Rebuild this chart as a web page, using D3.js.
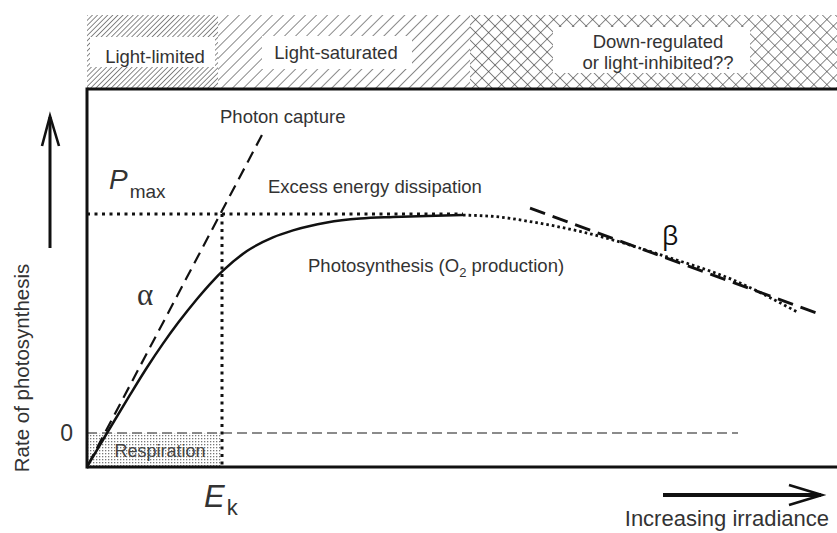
<!DOCTYPE html>
<html><head><meta charset="utf-8">
<script src="https://cdn.jsdelivr.net/npm/d3@7"></script>
<style>body{margin:0;background:#fff}svg{display:block}</style>
</head><body><svg id="c" width="837" height="533"></svg>
<script>
// ---- data (irradiance I in arbitrary units, rate P relative to Pmax) ----
const curveI = [0, 2.67, 5.73, 8.0, 10.13, 12.17, 14.67, 16.8, 18.13, 21.33, 24.8, 27.47, 32, 36.4, 40.8, 45.33, 50.13];
const curveP = [-0.155, 0, 0.174, 0.299, 0.408, 0.504, 0.612, 0.695, 0.741, 0.831, 0.893, 0.925, 0.961, 0.979, 0.986, 0.991, 0.995];
const inhibI = [50.13, 55.07, 59.47, 66.67, 77.33, 86.13, 94.67];
const inhibP = [0.995, 0.986, 0.963, 0.913, 0.804, 0.699, 0.553];
const alphaI = [0.13, 23.33];
const alphaP = [-0.146, 1.361];
const betaI = [59.07, 98];
const betaP = [1.027, 0.539];
const Pmax = 1, Ek = 18, zeroP = 0, respP = -0.155;
const zeroLineEnd = 86.8;
const regionBounds = [0, 17.47, 51.07, 100];
const regionLabels = [["Light-limited"], ["Light-saturated"], ["Down-regulated", "or light-inhibited??"]];
const yTickValues = [0];
const yTickLabels = ["0"];

// ---- layout ----
const L = 87, R = 837, T = 89, B = 467;
const x = d3.scaleLinear().domain([0, 100]).range([L, R]);
const y = d3.scaleLinear().domain([-0.1553, 1.5708]).range([B, T]);
const svg = d3.select("#c");
const txt = "#333";
const font = "'Liberation Sans', Arial, Helvetica, sans-serif";

// ---- patterns ----
const defs = svg.append("defs");
function hatch(id, spacing, angle, w) {
  const p = defs.append("pattern").attr("id", id).attr("patternUnits", "userSpaceOnUse")
    .attr("width", spacing).attr("height", spacing).attr("patternTransform", `rotate(${angle})`);
  p.append("line").attr("x1", 0).attr("y1", -1).attr("x2", 0).attr("y2", spacing + 1)
    .attr("stroke", "#3a3a3a").attr("stroke-width", w);
}
hatch("dense", 3.6, 45, 1.2);
hatch("sparse", 7.8, 45, 1.2);
hatch("crossA", 9.2, 45, 1.2);
hatch("crossB", 9.2, -45, 1.2);
const st = defs.append("pattern").attr("id", "stip").attr("patternUnits", "userSpaceOnUse").attr("width", 3).attr("height", 3);
st.append("rect").attr("width", 1.3).attr("height", 1.3).attr("fill", "#777");

// ---- top band ----
const bandTop = 15, bandBot = 88;
const band = svg.append("g");
const fills = [["url(#dense)"], ["url(#sparse)"], ["url(#crossA)", "url(#crossB)"]];
regionBounds.slice(0, 3).forEach((b, i) => {
  fills[i].forEach(f => band.append("rect").attr("x", x(b)).attr("y", bandTop)
    .attr("width", x(regionBounds[i + 1]) - x(b)).attr("height", bandBot - bandTop).attr("fill", f));
});
const boxes = [[90, 37, 125, 30], [262, 36, 150, 33], [553, 27, 197, 46]];
boxes.forEach(b => band.append("rect").attr("x", b[0]).attr("y", b[1]).attr("width", b[2]).attr("height", b[3]).attr("fill", "#fff"));
const labelPos = [[155, [63]], [336, [59]], [658, [48, 69]]];
regionLabels.forEach((lines, i) => {
  lines.forEach((t, j) => band.append("text").attr("x", labelPos[i][0]).attr("y", labelPos[i][1][j])
    .attr("text-anchor", "middle").attr("font-family", font).attr("font-size", 18.5).attr("fill", txt).text(t));
});

// ---- respiration area ----
svg.append("rect").attr("x", x(0)).attr("y", y(zeroP)).attr("width", x(Ek) - x(0))
  .attr("height", y(respP) - y(zeroP)).attr("fill", "url(#stip)");
svg.append("text").attr("x", 160).attr("y", 457).attr("text-anchor", "middle")
  .attr("font-family", font).attr("font-size", 18).attr("fill", "#444").text("Respiration");

// ---- reference lines ----
svg.append("line").attr("x1", x(0)).attr("x2", x(zeroLineEnd)).attr("y1", y(zeroP)).attr("y2", y(zeroP))
  .attr("stroke", "#666").attr("stroke-width", 1.5).attr("stroke-dasharray", "10,5");
svg.append("line").attr("x1", x(0)).attr("x2", x(curveI[curveI.length - 1])).attr("y1", y(Pmax)).attr("y2", y(Pmax))
  .attr("stroke", "#111").attr("stroke-width", 3).attr("stroke-dasharray", "3,4.5");
svg.append("line").attr("x1", x(Ek)).attr("x2", x(Ek)).attr("y1", y(Pmax)).attr("y2", y(respP))
  .attr("stroke", "#111").attr("stroke-width", 3).attr("stroke-dasharray", "3,4.5");

// ---- curves ----
const smooth = d3.line().x(d => x(d[0])).y(d => y(d[1])).curve(d3.curveMonotoneX);
const straight = d3.line().x(d => x(d[0])).y(d => y(d[1]));
svg.append("path").datum(alphaI.map((v, i) => [v, alphaP[i]])).attr("d", straight)
  .attr("fill", "none").attr("stroke", "#111").attr("stroke-width", 2.2).attr("stroke-dasharray", "12,7");
svg.append("path").datum(curveI.map((v, i) => [v, curveP[i]])).attr("d", smooth)
  .attr("fill", "none").attr("stroke", "#111").attr("stroke-width", 2.5);
svg.append("path").datum(inhibI.map((v, i) => [v, inhibP[i]])).attr("d", smooth)
  .attr("fill", "none").attr("stroke", "#111").attr("stroke-width", 2.8).attr("stroke-dasharray", "2.6,3");
svg.append("path").datum(betaI.map((v, i) => [v, betaP[i]])).attr("d", straight)
  .attr("fill", "none").attr("stroke", "#111").attr("stroke-width", 2.8).attr("stroke-dasharray", "16,8");

// ---- axes frame ----
const ax = svg.append("g");
ax.append("line").attr("x1", L).attr("x2", R).attr("y1", T).attr("y2", T).attr("stroke", "#111").attr("stroke-width", 3);
ax.append("line").attr("x1", L).attr("x2", R).attr("y1", B).attr("y2", B).attr("stroke", "#111").attr("stroke-width", 3);
ax.append("line").attr("x1", L).attr("x2", L).attr("y1", T - 1.5).attr("y2", B + 1.5).attr("stroke", "#111").attr("stroke-width", 3);

const yAxis = d3.axisLeft(y).tickValues(yTickValues).tickFormat((d, i) => yTickLabels[i]).tickSize(0).tickPadding(14);
const ya = svg.append("g").attr("transform", `translate(${L},0)`).call(yAxis);
ya.select(".domain").remove();
ya.selectAll("text").attr("font-family", font).attr("font-size", 23).attr("fill", txt).attr("dy", "0.32em");

// ---- labels ----
function t(xp, yp, s, size, extra) {
  const e = svg.append("text").attr("x", xp).attr("y", yp).attr("font-family", font).attr("font-size", size).attr("fill", txt).text(s);
  if (extra) extra(e);
  return e;
}
t(220, 123, "Photon capture", 18.5);
t(268, 193, "Excess energy dissipation", 18.5);
const ps = svg.append("text").attr("x", 308).attr("y", 272).attr("font-family", font).attr("font-size", 18.5).attr("fill", txt);
ps.append("tspan").text("Photosynthesis (O");
ps.append("tspan").attr("font-size", 13).attr("dy", 5).text("2");
ps.append("tspan").attr("dy", -5).text(" production)");

const pm = svg.append("text").attr("x", 109).attr("y", 189).attr("font-family", font).attr("fill", txt);
pm.append("tspan").attr("font-size", 28).attr("font-style", "italic").text("P");
pm.append("tspan").attr("font-size", 19).attr("dx", 2).attr("dy", 9).text("max");
const ek = svg.append("text").attr("x", 204).attr("y", 507).attr("font-family", font).attr("fill", txt);
ek.append("tspan").attr("font-size", 31).attr("font-style", "italic").text("E");
ek.append("tspan").attr("font-size", 22).attr("dx", 2).attr("dy", 8).text("k");

t(137, 305, "α", 31, e => e.attr("font-family", "'Liberation Serif', 'Times New Roman', serif").attr("fill", "#333"));
t(662, 245, "β", 26, e => e.attr("font-family", "'Open Sans', 'DejaVu Sans', sans-serif").attr("fill", "#111"));

svg.append("text").attr("transform", "translate(29,368) rotate(-90)").attr("text-anchor", "middle")
  .attr("font-family", font).attr("font-size", 20.5).attr("fill", txt).text("Rate of photosynthesis");
svg.append("line").attr("x1", 50).attr("x2", 50).attr("y1", 248).attr("y2", 117).attr("stroke", "#111").attr("stroke-width", 3);
svg.append("path").attr("d", "M42,146 L50,116 L59,146").attr("fill", "none").attr("stroke", "#111").attr("stroke-width", 2.6);

svg.append("line").attr("x1", 663).attr("x2", 821).attr("y1", 495).attr("y2", 495).attr("stroke", "#111").attr("stroke-width", 4);
svg.append("path").attr("d", "M789,485 L822,495 L789,505").attr("fill", "none").attr("stroke", "#111").attr("stroke-width", 2.6);
svg.append("text").attr("x", 829).attr("y", 526).attr("text-anchor", "end").attr("font-family", font)
  .attr("font-size", 22).attr("fill", txt).text("Increasing irradiance");
</script></body></html>
